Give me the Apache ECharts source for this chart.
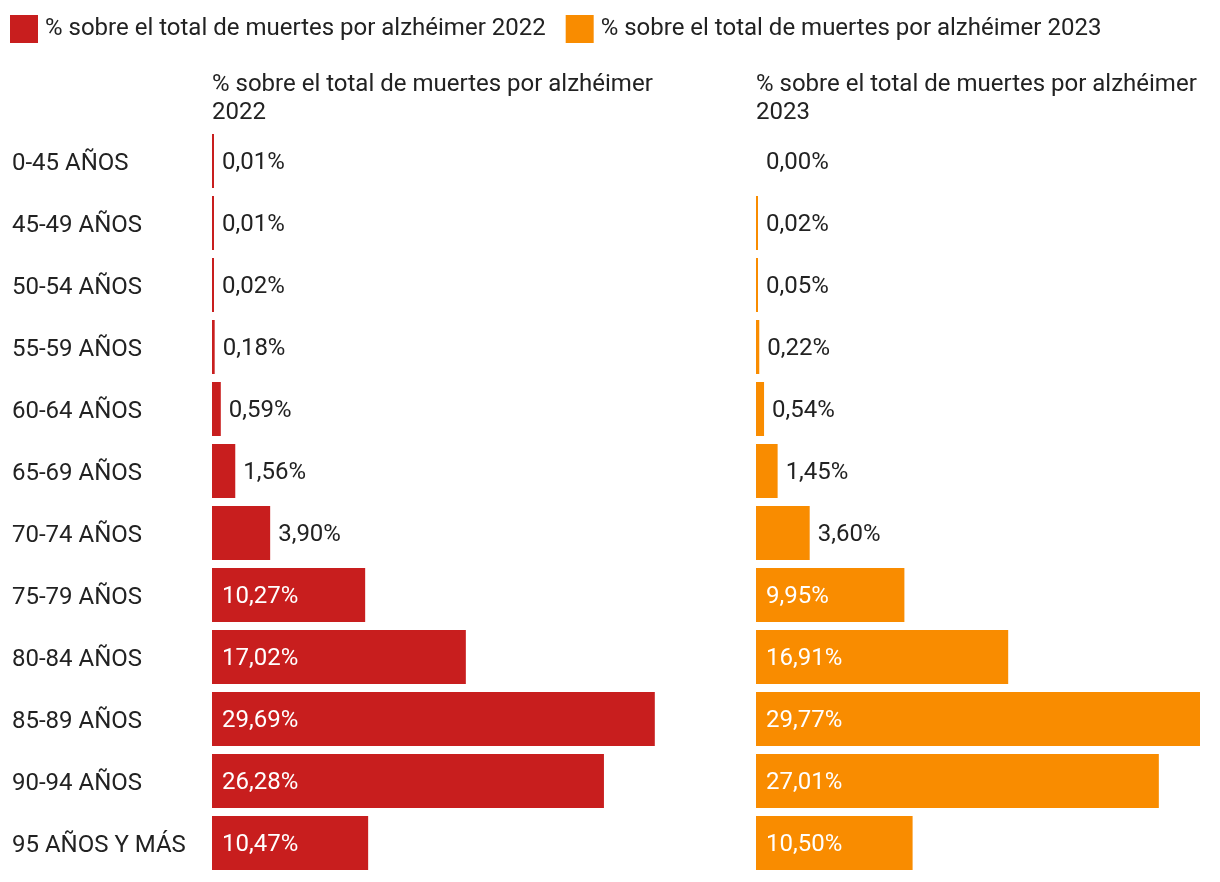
<!DOCTYPE html>
<html><head><meta charset="utf-8">
<script src="https://cdn.jsdelivr.net/npm/echarts@6/dist/echarts.min.js"></script>
<style>html,body{margin:0;padding:0;background:#fff}#c{width:1220px;height:882px}</style>
</head><body><div id="c"></div>
<script>
const categories = ['0-45 AÑOS','45-49 AÑOS','50-54 AÑOS','55-59 AÑOS','60-64 AÑOS','65-69 AÑOS','70-74 AÑOS','75-79 AÑOS','80-84 AÑOS','85-89 AÑOS','90-94 AÑOS','95 AÑOS Y MÁS'];
const values2022 = [0.01,0.01,0.02,0.18,0.59,1.56,3.90,10.27,17.02,29.69,26.28,10.47];
const values2023 = [0.00,0.02,0.05,0.22,0.54,1.45,3.60,9.95,16.91,29.77,27.01,10.50];
const seriesNames = ['% sobre el total de muertes por alzhéimer 2022','% sobre el total de muertes por alzhéimer 2023'];
const headers = ['% sobre el total de muertes por alzhéimer\n2022','% sobre el total de muertes por alzhéimer\n2023'];
const colors = ['#c81e1e','#f98c00'];
const FONT = 'Roboto';
const FS = 24;
const maxVal = Math.max(...values2022, ...values2023);
const fmt = v => v.toFixed(2).replace('.', ',') + '%';
function items(vals){
  return vals.map(v => ({
    value: v,
    label: v >= 8 ? {position:'insideLeft', distance:10, color:'#fff'} : {position:'right', distance:8, color:'#222'}
  }));
}
const chart = echarts.init(document.getElementById('c'));
const lefts = [212, 756];
chart.setOption({
  animation:false,
  textStyle:{fontFamily:FONT},
  legend:{left:5, top:10, itemWidth:28, itemHeight:28, itemGap:20, icon:'rect',
    textStyle:{fontSize:FS, color:'#222', fontFamily:FONT, padding:[0,0,0,2]}, data:seriesNames},
  title: headers.map((h,i)=>({text:h, left:lefts[i]-5, top:66, textStyle:{fontSize:FS, fontWeight:'normal', color:'#222', lineHeight:28, fontFamily:FONT}})),
  grid: lefts.map(l=>({left:l, width:444, top:130, height:744})),
  xAxis: [0,1].map(i=>({gridIndex:i, type:'value', min:0, max:maxVal, show:false})),
  yAxis: [0,1].map(i=>({gridIndex:i, type:'category', data:categories, inverse:true,
    axisLine:{show:false}, axisTick:{show:false}, splitLine:{show:false},
    axisLabel:{show:i===0, align:'left', margin:200, fontSize:FS, color:'#222', fontFamily:FONT,
      formatter: v => '{a|' + v + '}',
      rich:{a:{fontSize:FS, color:'#222', fontFamily:FONT, padding:[5,0,0,0]}}}})),
  series: [values2022, values2023].map((vals,i)=>({
    name:seriesNames[i], type:'bar', xAxisIndex:i, yAxisIndex:i,
    barWidth:54, barMinHeight:2,
    itemStyle:{color: p => p.value === 0 ? 'rgba(0,0,0,0)' : colors[i]},
    label:{show:true, fontSize:FS, fontFamily:FONT, offset:[0,2], formatter: p => fmt(p.value)},
    data: items(vals)
  })),
  color: colors
});
</script></body></html>
